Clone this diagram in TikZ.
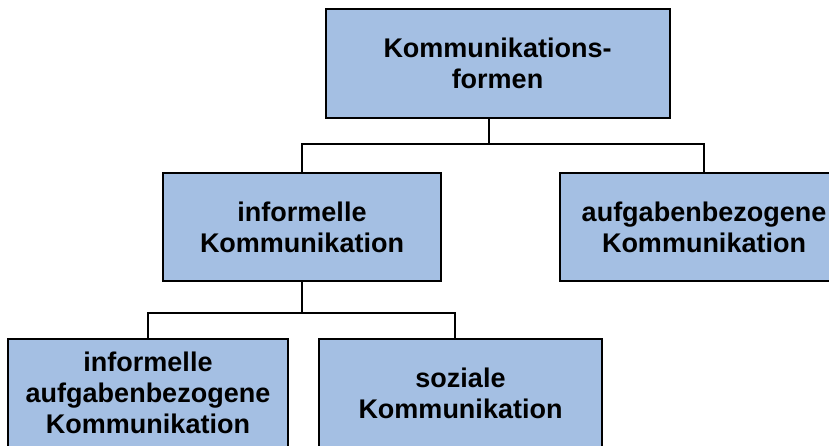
\documentclass[tikz,border=0pt]{standalone}
\usepackage{fontspec}
\setmainfont{Liberation Sans}
\definecolor{boxblue}{RGB}{164,191,227}
\begin{document}
\begin{tikzpicture}[x=1pt,y=-1pt,
  box/.style={draw=black, line width=2pt, fill=boxblue, align=center,
    inner sep=0pt, font=\bfseries\fontsize{27}{31}\selectfont},
  link/.style={draw=black, line width=2pt}]
\useasboundingbox (0,0) rectangle (829,446);
\clip (0,0) rectangle (829,446);

% boxes of the hierarchy
\node[box, minimum width=344pt, minimum height=109pt] (top) at (497.5,63.5) {Kommunikations-\\formen};
\node[box, minimum width=278pt, minimum height=108pt] (ml) at (302,227) {informelle\\Kommunikation};
\node[box, minimum width=288pt, minimum height=108pt] (mr) at (704,227) {aufgabenbezogene\\Kommunikation};
\node[box, minimum width=280pt, minimum height=108pt] (bl) at (148,393) {informelle\\aufgabenbezogene\\Kommunikation};
\node[box, minimum width=283pt, minimum height=108pt] (br) at (460.5,393) {soziale\\Kommunikation};

% connection points (slightly off the box centres)
\coordinate (topout) at ([xshift=-8.5pt]top.south);
\coordinate (brin) at ([xshift=-5.5pt]br.north);

% connectors
\draw[link] (topout) -- ++(0,25) -| (ml.north);
\draw[link] (topout) -- ++(0,25) -| (mr.north);
\draw[link] (ml.south) -- ++(0,31) -| (bl.north);
\draw[link] (ml.south) -- ++(0,31) -| (brin);
\end{tikzpicture}
\end{document}
